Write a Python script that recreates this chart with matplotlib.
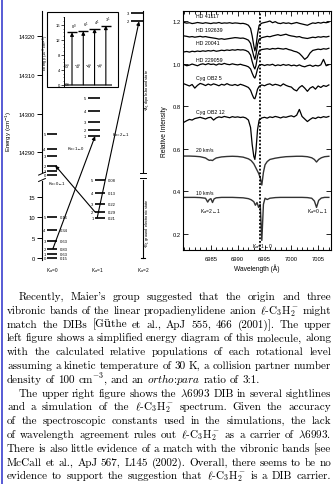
import matplotlib
matplotlib.use('Agg')
import matplotlib.pyplot as plt
from matplotlib.patches import Rectangle
from matplotlib.ticker import MultipleLocator, FormatStrFormatter
import numpy as np

W, H = 335, 485

# ---- energy level diagram, cm^-1 ----
lower_k0_J = ['0', '1', '2', '3', '4', '5']
lower_k0_E = [0.0, 1.0, 2.3, 4.3, 6.9, 10.2]
lower_k0_pop = ['0.15', '0.63', '0.83', '0.63', '0.34', '0.16']
lower_k1_J = ['1', '2', '3', '4', '5']
lower_k1_E = [9.8, 11.3, 13.3, 16.0, 19.2]
lower_k1_pop = ['0.21', '0.29', '0.22', '0.13', '0.08']
upper_k0_J = ['0', '1', '2', '3', '4', '5']
upper_k0_E = [14284.1, 14285.1, 14286.6, 14289.0, 14291.0, 14294.7]
upper_k1_J = ['1', '2', '3', '4', '5']
upper_k1_E = [14294.2, 14295.7, 14297.8, 14300.6, 14304.0]
upper_k2_J = ['2', '3']
upper_k2_E = [14323.9, 14326.0]
k_labels = ['K$_a$=0', 'K$_a$=1', 'K$_a$=2']
trans_labels = ['K$_a$=1←0', 'K$_a$=0←1', 'K$_a$=2←1']
trans_lower = [lower_k0_E[2], lower_k1_E[1], lower_k1_E[0]]
trans_upper = [upper_k1_E[0], upper_k0_E[2], upper_k2_E[0]]

# ---- inset: vibronic bands, 10^3 cm^-1 ----
band_top = ['0$^0$', '6$^1$', '4$^1$', '3$^1$']
band_name = [r'$0^0_0$', r'$6^1_0$', r'$4^1_0$', r'$3^1_0$']
band_E = [14.0, 14.3, 15.0, 15.8]

# ---- spectra ----
obs_wl = [6980.0, 6980.5, 6981.0, 6981.5, 6982.0, 6982.5, 6983.0, 6983.5, 6984.0, 6984.5,
          6985.0, 6985.5, 6986.0, 6986.5, 6987.0, 6987.5, 6988.0, 6988.5, 6989.0, 6989.5,
          6990.0, 6990.5, 6991.0, 6991.5, 6992.0, 6992.4, 6992.7, 6993.0, 6993.2, 6993.4,
          6993.7, 6994.0, 6994.5, 6995.0, 6995.5, 6996.0, 6996.5, 6997.0, 6997.5, 6998.0,
          6998.5, 6999.0, 6999.5, 7000.0, 7000.5, 7001.0, 7001.5, 7002.0, 7002.5, 7003.0,
          7003.5, 7004.0, 7004.5, 7005.0, 7005.5, 7006.0, 7006.5, 7007.0]
hd41117 = [1.193, 1.190, 1.192, 1.188, 1.190, 1.193, 1.191, 1.189, 1.192, 1.190,
           1.188, 1.191, 1.190, 1.193, 1.189, 1.191, 1.190, 1.192, 1.189, 1.191,
           1.190, 1.188, 1.189, 1.186, 1.180, 1.165, 1.130, 1.085, 1.060, 1.080,
           1.140, 1.180, 1.190, 1.193, 1.196, 1.200, 1.192, 1.197, 1.190, 1.188,
           1.192, 1.189, 1.191, 1.187, 1.190, 1.193, 1.189, 1.186, 1.183, 1.180,
           1.186, 1.191, 1.189, 1.193, 1.190, 1.194, 1.192, 1.195]
hd192639 = [1.130, 1.128, 1.125, 1.127, 1.124, 1.126, 1.128, 1.125, 1.127, 1.124,
            1.122, 1.120, 1.118, 1.115, 1.117, 1.114, 1.116, 1.118, 1.120, 1.122,
            1.121, 1.119, 1.120, 1.116, 1.110, 1.095, 1.065, 1.035, 1.020, 1.040,
            1.090, 1.115, 1.122, 1.125, 1.128, 1.126, 1.130, 1.133, 1.136, 1.132,
            1.135, 1.138, 1.133, 1.130, 1.128, 1.125, 1.127, 1.122, 1.120, 1.118,
            1.121, 1.124, 1.122, 1.126, 1.124, 1.127, 1.125, 1.128]
hd20041 = [1.055, 1.057, 1.054, 1.058, 1.056, 1.059, 1.057, 1.060, 1.058, 1.061,
           1.059, 1.062, 1.058, 1.060, 1.063, 1.061, 1.064, 1.062, 1.065, 1.063,
           1.066, 1.064, 1.065, 1.062, 1.055, 1.040, 1.010, 0.985, 0.975, 0.990,
           1.035, 1.060, 1.066, 1.068, 1.070, 1.067, 1.071, 1.069, 1.072, 1.070,
           1.068, 1.071, 1.066, 1.063, 1.058, 1.055, 1.048, 1.035, 1.020, 1.030,
           1.050, 1.062, 1.065, 1.068, 1.066, 1.070, 1.068, 1.072]
hd229059 = [0.995, 0.990, 0.993, 0.998, 0.994, 0.990, 0.996, 0.999, 0.995, 1.000,
            0.996, 0.998, 0.993, 0.999, 0.996, 1.001, 0.997, 0.995, 0.999, 0.996,
            0.994, 0.997, 0.993, 0.990, 0.985, 0.975, 0.955, 0.938, 0.932, 0.945,
            0.975, 0.992, 0.996, 0.991, 0.995, 0.993, 0.997, 0.990, 0.994, 0.991,
            0.996, 0.992, 0.995, 0.990, 0.993, 0.989, 0.994, 0.988, 0.985, 0.990,
            0.993, 0.987, 0.992, 0.989, 0.994, 1.020, 0.990, 0.995]
cyg5 = [0.905, 0.900, 0.895, 0.902, 0.885, 0.898, 0.907, 0.903, 0.897, 0.904,
        0.899, 0.905, 0.901, 0.896, 0.903, 0.899, 0.906, 0.900, 0.898, 0.902,
        0.897, 0.903, 0.899, 0.894, 0.888, 0.875, 0.855, 0.838, 0.835, 0.850,
        0.880, 0.893, 0.900, 0.896, 0.902, 0.905, 0.898, 0.903, 0.900, 0.895,
        0.905, 0.898, 0.893, 0.890, 0.878, 0.872, 0.888, 0.897, 0.885, 0.870,
        0.885, 0.892, 0.880, 0.895, 0.888, 0.897, 0.893, 0.900]
cyg12 = [0.725, 0.732, 0.738, 0.735, 0.742, 0.745, 0.748, 0.744, 0.740, 0.746,
         0.748, 0.735, 0.745, 0.750, 0.747, 0.752, 0.749, 0.746, 0.751, 0.748,
         0.750, 0.747, 0.749, 0.745, 0.735, 0.700, 0.620, 0.565, 0.550, 0.590,
         0.690, 0.735, 0.745, 0.748, 0.744, 0.750, 0.747, 0.752, 0.749, 0.745,
         0.750, 0.748, 0.752, 0.755, 0.750, 0.758, 0.785, 0.752, 0.740, 0.728,
         0.738, 0.746, 0.742, 0.749, 0.746, 0.751, 0.748, 0.752]
obs_spectra = [hd41117, hd192639, hd20041, hd229059, cyg5, cyg12]
obs_names = ['HD 41117', 'HD 192639', 'HD 20041', 'HD 229059', 'Cyg OB2 5', 'Cyg OB2 12']
obs_label_y = [1.228, 1.160, 1.101, 1.021, 0.937, 0.777]

sim_wl = [6980.0, 6981.0, 6982.0, 6983.0, 6984.0, 6984.4, 6984.7, 6985.0, 6985.3, 6985.6,
          6986.0, 6987.0, 6988.0, 6989.0, 6990.0, 6991.0, 6992.0, 6992.5, 6993.0, 6993.3,
          6993.6, 6993.9, 6994.2, 6994.5, 6994.8, 6995.1, 6995.5, 6996.0, 6997.0, 6998.0,
          6999.0, 7000.0, 7001.0, 7002.0, 7003.0, 7003.8, 7004.3, 7004.7, 7005.1, 7005.6,
          7006.2, 7007.0]
sim20 = [0.566, 0.566, 0.565, 0.563, 0.557, 0.550, 0.546, 0.547, 0.545, 0.551,
         0.557, 0.562, 0.564, 0.565, 0.564, 0.561, 0.553, 0.545, 0.530, 0.515,
         0.500, 0.485, 0.465, 0.430, 0.490, 0.525, 0.540, 0.550, 0.556, 0.560,
         0.563, 0.564, 0.565, 0.565, 0.563, 0.558, 0.550, 0.538, 0.550, 0.558,
         0.563, 0.565]
sim10 = [0.372, 0.372, 0.372, 0.371, 0.368, 0.350, 0.362, 0.366, 0.348, 0.365,
         0.370, 0.372, 0.372, 0.372, 0.371, 0.370, 0.366, 0.361, 0.352, 0.335,
         0.348, 0.325, 0.340, 0.170, 0.340, 0.368, 0.362, 0.368, 0.371, 0.372,
         0.372, 0.372, 0.372, 0.372, 0.371, 0.368, 0.355, 0.325, 0.358, 0.369,
         0.372, 0.372]
sim_spectra = [sim20, sim10]
sim_names = ['20 km/s', '10 km/s']
sim_label_y = [0.599, 0.397]
band_names = ['K$_a$=2←1', 'K$_a$=1←0', 'K$_a$=0←1']
band_wl = [6984.9, 6994.7, 7004.8]
band_y = [0.308, 0.145, 0.308]
dib_wl = 6994.1

# ---- body text ----
ell = r'$\ell$-C$_3$H$_2^-$'
para1 = [
    "Recently, Maier's group suggested that the origin and three",
    "vibronic bands of the linear propadienylidene anion " + ell + " might",
    "match the DIBs [Güthe et al., ApJ 555, 466 (2001)]. The upper",
    "left figure shows a simplified energy diagram of this molecule, along",
    "with the calculated relative populations of each rotational level",
    "assuming a kinetic temperature of 30 K, a collision partner number",
    r"density of 100 cm$^{-3}$, and an $\mathit{ortho}$:$\mathit{para}$ ratio of 3:1.",
]
para2 = [
    r"The upper right figure shows the $\lambda$6993 DIB in several sightlines",
    "and a simulation of the " + ell + " spectrum. Given the accuracy",
    "of the spectroscopic constants used in the simulations, the lack",
    "of wavelength agreement rules out " + ell + r" as a carrier of $\lambda$6993.",
    "There is also little evidence of a match with the vibronic bands [see",
    "McCall et al., ApJ 567, L145 (2002). Overall, there seems to be no",
    "evidence to support the suggestion that " + ell + " is a DIB carrier.",
]

plt.rcParams['font.family'] = ['Liberation Sans', 'DejaVu Sans']


def px_rect(x0, y0, x1, y1):
    return [x0 / W, 1 - y1 / H, (x1 - x0) / W, (y1 - y0) / H]


fig = plt.figure(figsize=(W / 100, H / 100), dpi=100)
fig.add_artist(Rectangle((0.8 / W, 0), 1.8 / W, 1, transform=fig.transFigure,
                         color='#5b5fd6', lw=0))

# ================= energy diagram =================
def fwd(e):
    e = np.asarray(e, dtype=float)
    return np.where(e < 5000, e, 26 + (e - 14290) * 0.951)


def inv(u):
    u = np.asarray(u, dtype=float)
    return np.where(u < 20.2, u, 14290 + (u - 26) / 0.951)


ax1 = fig.add_axes(px_rect(42, 12, 155, 261))
ax1.set_yscale('function', functions=(fwd, inv))
ymin, ymax = -0.5, 14326.6
ax1.set_ylim(ymin, ymax)
ax1.set_xlim(-0.22, 2.26)
for s in ax1.spines.values():
    s.set_visible(False)


def frac(e):
    return float((fwd(e) - fwd(ymin)) / (fwd(ymax) - fwd(ymin)))


ax1.plot([0, 0], [0, frac(19.0)], transform=ax1.transAxes, color='k', lw=0.8, clip_on=False)
ax1.plot([0, 0], [frac(14285.0), 1], transform=ax1.transAxes, color='k', lw=0.8, clip_on=False)
for e in [19.2, 14284.5]:
    f = frac(e)
    ax1.plot([-0.03, 0.03], [f - 0.006, f + 0.006], transform=ax1.transAxes,
             color='k', lw=0.7, clip_on=False)

ax1.set_yticks([0, 5, 10, 15, 14290, 14300, 14310, 14320])
ax1.yaxis.set_minor_locator(plt.NullLocator())
ax1.tick_params(axis='y', direction='out', length=3.5, width=0.7, labelsize=4.2, pad=1.5)
ax1.set_ylabel('Energy (cm$^{-1}$)', fontsize=4.4)
ax1.yaxis.set_label_coords(-0.25, 0.52)
ax1.set_xticks([0, 1, 2], k_labels)
ax1.tick_params(axis='x', length=0, labelsize=3.4, pad=4)

lvl = dict(colors='k', lw=1.2, clip_on=False)
ax1.hlines(lower_k0_E, -0.11, 0.11, **lvl)
ax1.hlines(lower_k1_E, 0.945, 1.165, **lvl)
ax1.hlines(upper_k0_E, -0.11, 0.11, **lvl)
ax1.hlines(upper_k1_E, 0.79, 1.05, **lvl)
ax1.hlines(upper_k2_E, 1.74, 2.0, **lvl)

fs = 3.0
for j, e, p in zip(lower_k0_J, lower_k0_E, lower_k0_pop):
    ax1.text(-0.14, e, j, fontsize=fs, ha='right', va='center')
    ax1.text(0.17, e, p, fontsize=fs, ha='left', va='center')
for j, e, p in zip(lower_k1_J, lower_k1_E, lower_k1_pop):
    ax1.text(0.91, e, j, fontsize=fs, ha='right', va='center')
    ax1.text(1.22, e, p, fontsize=fs, ha='left', va='center')
for j, e in zip(upper_k0_J, upper_k0_E):
    ax1.text(-0.14, e, j, fontsize=fs, ha='right', va='center')
for j, e in zip(upper_k1_J, upper_k1_E):
    ax1.text(0.75, e, j, fontsize=fs, ha='right', va='center')
for j, e in zip(upper_k2_J, upper_k2_E):
    ax1.text(1.70, e, j, fontsize=fs, ha='right', va='center')

# K=2 column line with break
ax1.plot([2.0, 2.0], [0, 19.3], color='k', lw=0.8, clip_on=False)
ax1.plot([2.0, 2.0], [14285.0, ymax], color='k', lw=0.8, clip_on=False)
ax1.plot([1.95, 2.05], [0, 0], color='k', lw=0.8, clip_on=False)
for e in [19.6, 14284.6]:
    ax1.plot([1.93, 2.07], [e, e], color='k', lw=0.7, clip_on=False)
ax1.text(2.11, 14306.5, r'$^2$A$_1$ dipole-bound state', rotation=90, fontsize=2.9,
         ha='center', va='center')
ax1.text(2.11, 8.9, r'$^2$B$_1$ ground electronic state', rotation=90, fontsize=2.9,
         ha='center', va='center')

# transitions
trans_x = [(0.02, 0.945), (0.945, 0.07), (0.99, 1.91)]
trans_txt = [(0.52, 14291.0), (0.12, 18.3), (1.52, 14294.6)]
for (x0, x1), e0, e1, lab, (tx, ty) in zip(trans_x, trans_lower, trans_upper, trans_labels, trans_txt):
    ax1.annotate('', xy=(x1, e1), xytext=(x0, e0),
                 arrowprops=dict(arrowstyle='-|>', color='k', lw=0.8,
                                 mutation_scale=5, shrinkA=0, shrinkB=0))
    ax1.text(tx, ty, lab, fontsize=3.1, ha='center', va='center')

# inset
fig.add_artist(Rectangle((47 / W, 1 - 88 / H), 71 / W, 75 / H, transform=fig.transFigure,
                         fill=False, ec='k', lw=0.8))
axi = fig.add_axes(px_rect(64, 18, 116, 87))
axi.set_xlim(-0.71, 3.9)
axi.set_ylim(-0.3, 18.1)
for side in ['top', 'right', 'bottom']:
    axi.spines[side].set_visible(False)
axi.spines['left'].set_linewidth(0.7)
axi.set_xticks([])
axi.set_yticks([0, 4, 8, 12, 16])
axi.yaxis.set_minor_locator(MultipleLocator(1))
axi.tick_params(axis='y', which='major', length=2, width=0.5, labelsize=3.0, pad=1)
axi.tick_params(axis='y', which='minor', length=1, width=0.4)
axi.set_ylabel('Energy (10$^3$ cm$^{-1}$)', fontsize=3.0, labelpad=1)
axi.yaxis.set_label_coords(-0.25, 0.5)
axi.hlines(0, -0.7, 3.55, colors='0.4', lw=1.4)
for i, (e, top, name) in enumerate(zip(band_E, band_top, band_name)):
    axi.annotate('', xy=(i, e), xytext=(i, 0),
                 arrowprops=dict(arrowstyle='-|>', color='k', lw=0.8,
                                 mutation_scale=5, shrinkA=0, shrinkB=0))
    axi.hlines(e, i - 0.45, i + 0.45, colors='k', lw=1.0)
    axi.text(i + 0.2, e + 0.5, top, fontsize=2.9, ha='center', va='bottom')
    axi.text(i - 0.32, 5.5, name, fontsize=2.9, rotation=90, ha='center', va='center')
axi.text(-0.44, 0.1, r'$0_0$', fontsize=2.9, ha='center', va='center')

# ================= spectra =================
ax2 = fig.add_axes(px_rect(183, 12, 331, 251))
for flux, name, ly in zip(obs_spectra, obs_names, obs_label_y):
    ax2.plot(obs_wl, flux, color='k', lw=0.9)
    ax2.text(6982.3, ly, name, fontsize=3.8, ha='left', va='center')
for flux, name, ly in zip(sim_spectra, sim_names, sim_label_y):
    ax2.plot(sim_wl, flux, color='0.2', lw=1.0)
    ax2.text(6982.3, ly, name, fontsize=3.6, ha='left', va='center')
for name, x, y in zip(band_names, band_wl, band_y):
    ax2.text(x, y, name, fontsize=3.6, ha='center', va='center')
ax2.axvline(dib_wl, color='k', ls=(0, (1, 1)), lw=1.3)
ax2.set_xlim(6979.8, 7007.4)
ax2.set_ylim(0.125, 1.247)
ax2.set_xticks([6985, 6990, 6995, 7000, 7005])
ax2.xaxis.set_minor_locator(MultipleLocator(1))
ax2.set_yticks([0.2, 0.4, 0.6, 0.8, 1.0, 1.2])
ax2.yaxis.set_major_formatter(FormatStrFormatter('%.1f'))
ax2.tick_params(which='both', direction='in', top=True, right=True, width=0.6, labelsize=4.2)
ax2.tick_params(which='major', length=3.5)
ax2.tick_params(which='minor', length=2)
ax2.tick_params(axis='x', pad=4)
ax2.tick_params(axis='y', pad=1.5)
ax2.set_xlabel('Wavelength (Å)', fontsize=4.8, labelpad=2)
ax2.set_ylabel('Relative Intensity', fontsize=4.8)
ax2.yaxis.set_label_coords(-0.1, 0.5)
for s in ax2.spines.values():
    s.set_linewidth(0.8)

# ================= body text, justified =================
renderer = fig.canvas.get_renderer()
body = dict(fontsize=8.0, family=['cmr10', 'DejaVu Serif'], math_fontfamily='cm',
            va='baseline', ha='left')


def put_line(line, x0, x1, yb, justify):
    words = line.split(' ')
    texts = [fig.text(0, 0, w, **body) for w in words]
    widths = [t.get_window_extent(renderer=renderer).width for t in texts]
    if justify and len(words) > 1:
        gap = (x1 - x0 - sum(widths)) / (len(words) - 1)
    else:
        gap = 3.4
    x = x0
    for t, w in zip(texts, widths):
        t.set_position((x / W, 1 - yb / H))
        x += w + gap


lines = [(l, i == 0, i < len(para1) - 1) for i, l in enumerate(para1)] + \
        [(l, i == 0, True) for i, l in enumerate(para2)]
for k, (line, indent, justify) in enumerate(lines):
    yb = 300 + 13.8 * k
    put_line(line, 19 if indent else 7, 331, yb, justify)

fig.savefig('out.png', dpi=100)
